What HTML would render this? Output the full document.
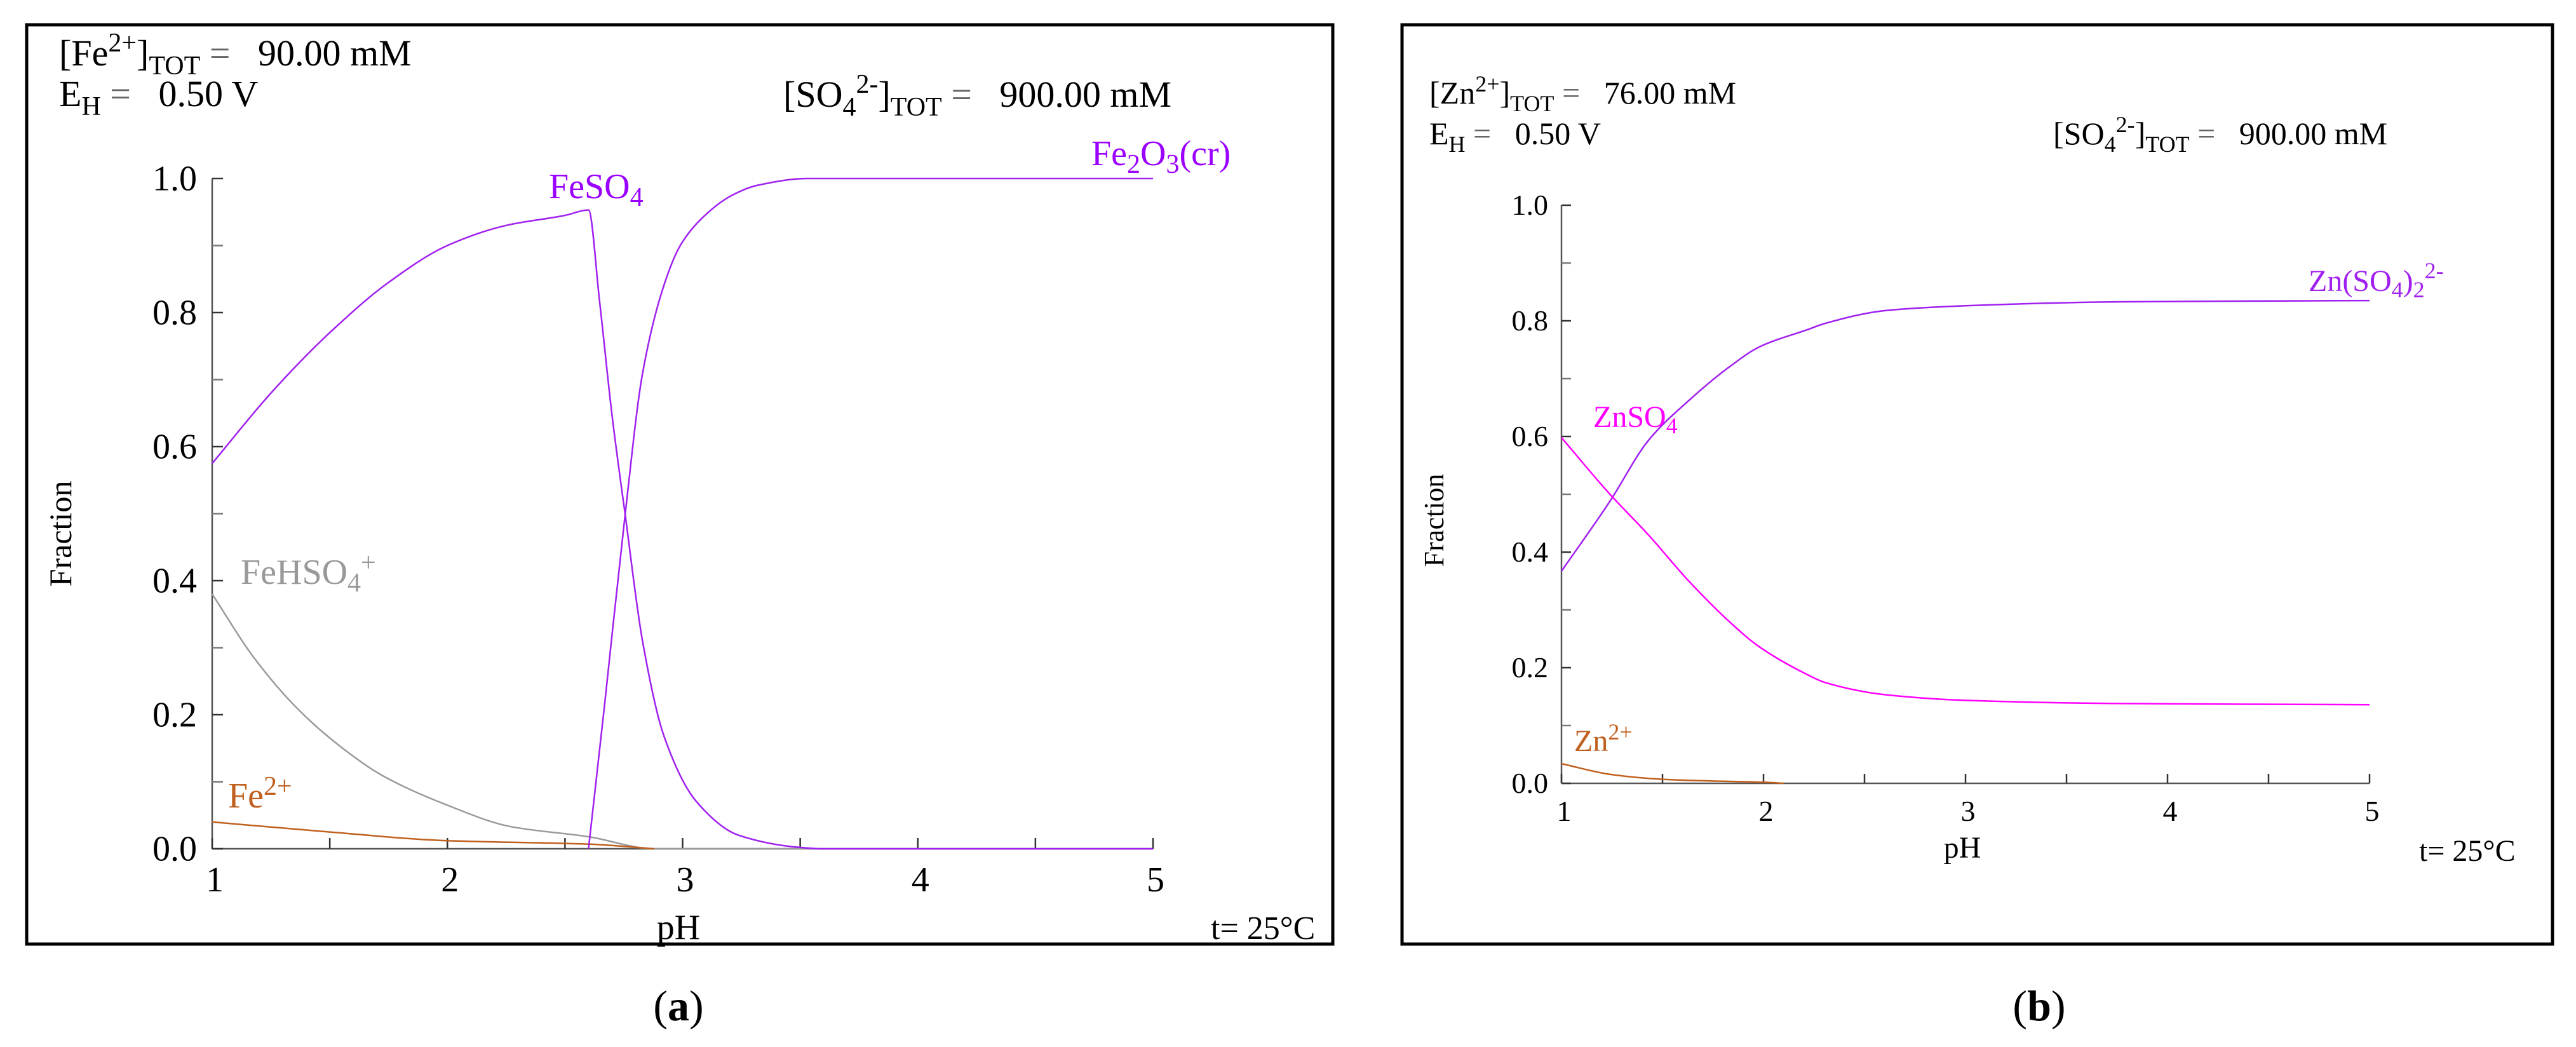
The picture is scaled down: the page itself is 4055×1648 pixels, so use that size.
<!DOCTYPE html>
<html><head><meta charset="utf-8">
<style>
html,body{margin:0;padding:0;background:#fff;}
svg{display:block;}
svg text{font-family:"Liberation Serif","Times New Roman","DejaVu Serif",serif;white-space:pre;}
</style></head>
<body>
<svg id="fig" width="4055" height="1648" viewBox="0 0 4055 1648" xmlns="http://www.w3.org/2000/svg" font-family="Liberation Serif, Times New Roman, serif">
  <g>
    <rect x="42" y="39" width="2056" height="1447" fill="none" stroke="#000" stroke-width="5"/>
    <text x="93" y="103" font-size="58" xml:space="preserve">[Fe<tspan font-size="42" dy="-22">2+</tspan><tspan dy="22">]</tspan><tspan font-size="42" dy="14">TOT</tspan><tspan dy="-14" fill="#666"> = </tspan><tspan>  90.00 mM</tspan></text>
    <text x="93" y="167" font-size="58" xml:space="preserve">E<tspan font-size="42" dy="14">H</tspan><tspan dy="-14" fill="#666"> = </tspan><tspan>  0.50 V</tspan></text>
    <text x="1233" y="168" font-size="58" xml:space="preserve">[SO<tspan font-size="42" dy="14">4</tspan><tspan font-size="42" dy="-36">2-</tspan><tspan dy="22">]</tspan><tspan font-size="42" dy="14">TOT</tspan><tspan dy="-14" fill="#666"> = </tspan><tspan>  900.00 mM</tspan></text>
    <text transform="translate(112,840) rotate(-90)" text-anchor="middle" font-size="50">Fraction</text>
    <text x="1068" y="1478" text-anchor="middle" font-size="56">pH</text>
    <text x="1906" y="1478" font-size="52">t= 25°C</text>
    <text x="1068" y="1606" text-anchor="middle" font-size="68">(<tspan font-weight="bold">a</tspan>)</text>
    <g id="axA"></g>
    <g id="serA"></g>
    <text x="864" y="312" font-size="56" fill="#9b00ff">FeSO<tspan font-size="42" dy="12">4</tspan></text>
    <text x="1718" y="260" font-size="56" fill="#9b00ff">Fe<tspan font-size="42" dy="12">2</tspan><tspan dy="-12">O</tspan><tspan font-size="42" dy="12">3</tspan><tspan dy="-12">(cr)</tspan></text>
    <text x="379" y="919" font-size="56" fill="#999">FeHSO<tspan font-size="42" dy="12">4</tspan><tspan font-size="42" dy="-32">+</tspan></text>
    <text x="359" y="1271" font-size="56" fill="#c0601f">Fe<tspan font-size="42" dy="-20">2+</tspan></text>
  </g>
  <g>
    <rect x="2207" y="39" width="1811" height="1447" fill="none" stroke="#000" stroke-width="5"/>
    <text x="2250" y="163" font-size="50" xml:space="preserve">[Zn<tspan font-size="36" dy="-19">2+</tspan><tspan dy="19">]</tspan><tspan font-size="36" dy="12">TOT</tspan><tspan dy="-12" fill="#666"> = </tspan><tspan>  76.00 mM</tspan></text>
    <text x="2250" y="227" font-size="50" xml:space="preserve">E<tspan font-size="36" dy="12">H</tspan><tspan dy="-12" fill="#666"> = </tspan><tspan>  0.50 V</tspan></text>
    <text x="3232" y="227" font-size="50" xml:space="preserve">[SO<tspan font-size="36" dy="12">4</tspan><tspan font-size="36" dy="-31">2-</tspan><tspan dy="19">]</tspan><tspan font-size="36" dy="12">TOT</tspan><tspan dy="-12" fill="#666"> = </tspan><tspan>  900.00 mM</tspan></text>
    <text transform="translate(2272,819) rotate(-90)" text-anchor="middle" font-size="44">Fraction</text>
    <text x="3089" y="1350" text-anchor="middle" font-size="48">pH</text>
    <text x="3808" y="1355" font-size="48">t= 25°C</text>
    <text x="3210" y="1606" text-anchor="middle" font-size="68">(<tspan font-weight="bold">b</tspan>)</text>
    <g id="axB"></g>
    <g id="serB"></g>
    <text x="3634" y="458" font-size="48" fill="#a020f0">Zn(SO<tspan font-size="36" dy="10">4</tspan><tspan dy="-10">)</tspan><tspan font-size="36" dy="10">2</tspan><tspan font-size="36" dy="-30">2-</tspan></text>
    <text x="2508" y="672" font-size="48" fill="#ff00ff">ZnSO<tspan font-size="36" dy="10">4</tspan></text>
    <text x="2478" y="1182" font-size="48" fill="#c0601f">Zn<tspan font-size="36" dy="-18">2+</tspan></text>
  </g>
</svg>
<script>
// ---- Panel a data ----
const phA_FeSO4 = [1,1.25,1.5,1.75,2,2.25,2.5,2.6,2.647,2.70,2.756,2.83,2.92,3.06,3.24,3.5,3.6,5];
const valA_FeSO4 = [0.575,0.68,0.77,0.845,0.9,0.93,0.945,0.953,0.817,0.647,0.498,0.309,0.169,0.07,0.02,0.002,0,0];
const phA_Fe2O3 = [2.6,2.67,2.756,2.83,2.92,2.99,3.08,3.21,3.32,3.53,5];
const valA_Fe2O3 = [0,0.22,0.5,0.71,0.84,0.9,0.94,0.975,0.99,1.0,1.0];
const phA_FeHSO4 = [1,1.18,1.36,1.54,1.72,2.0,2.27,2.6,2.88,5];
const valA_FeHSO4 = [0.38,0.284,0.21,0.154,0.11,0.065,0.033,0.018,0,0];
const phA_Fe2 = [1,1.5,2,2.5,2.6,2.88];
const valA_Fe2 = [0.04,0.025,0.012,0.008,0.007,0];
const yTicksA = ["0.0","0.2","0.4","0.6","0.8","1.0"];
const xTicksA = ["1","2","3","4","5"];
// ---- Panel b data ----
const phB = [1,1.24,1.43,1.63,1.83,1.98,2.22,2.3,2.61,3.0,3.79,5];
const valB_ZnSO4_2 = [0.367,0.488,0.593,0.662,0.72,0.755,0.785,0.795,0.818,0.826,0.833,0.835];
const valB_ZnSO4 = [0.598,0.5,0.43,0.35,0.28,0.236,0.1875,0.175,0.153,0.1435,0.138,0.136];
const phB_Zn2 = [1,1.25,1.5,1.75,2,2.1];
const valB_Zn2 = [0.034,0.015,0.007,0.004,0.002,0];
const yTicksB = ["0.0","0.2","0.4","0.6","0.8","1.0"];
const xTicksB = ["1","2","3","4","5"];

const NS = "http://www.w3.org/2000/svg";
function mk(tag, attrs, parent){const e=document.createElementNS(NS,tag);for(const k in attrs)e.setAttribute(k,attrs[k]);parent.appendChild(e);return e;}

function axes(g, x0, x1, y0, y1, fs, yt, xt, tickLen, yLabelX, xLabelY){
  const sx = v => x0 + (v-1)/4*(x1-x0);
  const sy = v => y0 - v*(y0-y1);
  const l1 = mk('line',{x1:x0,y1:y0,x2:x0,y2:y1,stroke:'#555','stroke-width':2.5},g);
  
  
  const l2 = mk('line',{x1:x0,y1:y0,x2:x1,y2:y0,stroke:'#555','stroke-width':2.5},g);
  
  
  for(let i=0;i<=10;i++){
    const t = mk('line',{x1:x0,y1:sy(i/10),x2:x0+tickLen,y2:sy(i/10),stroke:(i%2?'#777':'#333'),'stroke-width':2.5},g);
    
    
  }
  yt.forEach(s=>{
    const v = parseFloat(s);
    const t = mk('text',{x:yLabelX,y:sy(v)+fs*0.33,'text-anchor':'end','font-size':fs},g);
    t.textContent = s;
    
    
  });
  for(let i=0;i<=8;i++){
    const v = 1+i*0.5;
    const t = mk('line',{x1:sx(v),y1:y0,x2:sx(v),y2:y0-tickLen,stroke:'#333','stroke-width':2.5},g);
    
    
  }
  xt.forEach(s=>{
    const v = parseFloat(s);
    const t = mk('text',{x:sx(v)+4,y:xLabelY,'text-anchor':'middle','font-size':fs},g);
    t.textContent = s;
    
    
  });
  return {sx, sy};
}
// monotone cubic (Fritsch-Carlson) to avoid overshoot
function series(g, sc, xs, ys, color, name){
  const n = xs.length;
  const dl = [], m = new Array(n);
  for(let i=0;i<n-1;i++) dl.push((ys[i+1]-ys[i])/(xs[i+1]-xs[i]));
  m[0]=dl[0]; m[n-1]=dl[n-2];
  for(let i=1;i<n-1;i++){
    if(dl[i-1]*dl[i]<=0) m[i]=0;
    else { const w1=2*(xs[i+1]-xs[i])+(xs[i]-xs[i-1]), w2=(xs[i+1]-xs[i])+2*(xs[i]-xs[i-1]);
      m[i]=(w1+w2)/(w1/dl[i-1]+w2/dl[i]); }
  }
  let d = 'M'+sc.sx(xs[0]).toFixed(1)+','+sc.sy(ys[0]).toFixed(1);
  for(let i=0;i<n-1;i++){
    const h=xs[i+1]-xs[i];
    const c1x=xs[i]+h/3, c1y=ys[i]+m[i]*h/3;
    const c2x=xs[i+1]-h/3, c2y=ys[i+1]-m[i+1]*h/3;
    d += 'C'+sc.sx(c1x).toFixed(1)+','+sc.sy(c1y).toFixed(1)+' '+sc.sx(c2x).toFixed(1)+','+sc.sy(c2y).toFixed(1)+' '+sc.sx(xs[i+1]).toFixed(1)+','+sc.sy(ys[i+1]).toFixed(1);
  }
  const p = mk('path',{d:d,fill:'none',stroke:color,'stroke-width':2.5,'stroke-linejoin':'round'},g);
  
  
}
const scA = axes(document.getElementById('axA'), 334, 1815, 1336, 281, 56, yTicksA, xTicksA, 17, 310, 1403);
const gA = document.getElementById('serA');
series(gA, scA, phA_FeHSO4, valA_FeHSO4, '#9a9a9a', 'line-fehso4');
series(gA, scA, phA_Fe2, valA_Fe2, '#c0601f', 'line-fe2plus');
series(gA, scA, phA_FeSO4, valA_FeSO4, '#a020f0', 'line-feso4');
series(gA, scA, phA_Fe2O3, valA_Fe2O3, '#a020f0', 'line-fe2o3');

const scB = axes(document.getElementById('axB'), 2458, 3730, 1233, 323, 46, yTicksB, xTicksB, 15, 2437, 1292);
const gB = document.getElementById('serB');
series(gB, scB, phB, valB_ZnSO4_2, '#a020f0', 'line-zn-so4-2');
series(gB, scB, phB, valB_ZnSO4, '#ff00ff', 'line-znso4');
series(gB, scB, phB_Zn2, valB_Zn2, '#c0601f', 'line-zn2plus');
</script>
</body></html>
